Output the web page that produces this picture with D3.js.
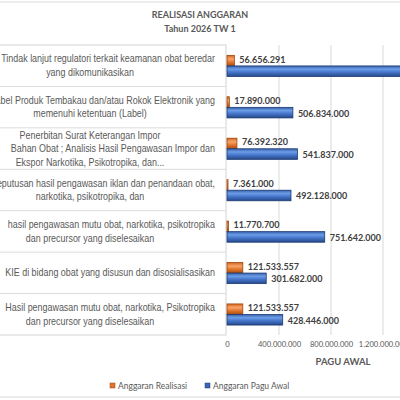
<!DOCTYPE html>
<html>
<head>
<meta charset="utf-8">
<script src="https://cdn.jsdelivr.net/npm/d3@7/dist/d3.min.js"></script>
<style>
  body { margin: 0; background: #fff; overflow: hidden; }
  svg { display: block; }
</style>
</head>
<body>
<div id="chart"></div>
<script>
// data
const categories = [
  ["Tindak lanjut regulatori terkait keamanan obat beredar", "yang dikomunikasikan"],
  ["Label Produk Tembakau dan/atau Rokok Elektronik yang", "memenuhi ketentuan (Label)"],
  ["Penerbitan Surat Keterangan Impor", "Bahan  Obat ; Analisis Hasil Pengawasan Impor dan", "Ekspor Narkotika, Psikotropika, dan..."],
  ["Keputusan hasil pengawasan iklan dan penandaan obat,", "narkotika, psikotropika, dan"],
  ["hasil pengawasan mutu obat, narkotika, psikotropika", "dan precursor  yang diselesaikan"],
  ["KIE di bidang obat yang disusun dan disosialisasikan"],
  ["Hasil pengawasan mutu obat, narkotika, Psikotropika", "dan precursor yang  diselesaikan"]
];
const realisasi = [56656291, 17890000, 76392320, 7361000, 11770700, 121533557, 121533557];
const paguAwal = [1450000000, 506834000, 541837000, 492128000, 751642000, 301682000, 428446000];
const xTicks = [0, 400000000, 800000000, 1200000000, 1600000000];
const seriesNames = ["Anggaran Realisasi", "Anggaran Pagu Awal"];

const width = 400;
const height = 400;
const labelRight = 226;
const gray = "#595959";

const locale = d3.formatLocale({ decimal: ",", thousands: ".", grouping: [3], currency: ["", ""] });
const fmt = locale.format(",d");

const svg = d3.select("#chart").append("svg")
  .attr("width", width)
  .attr("height", height);

const defs = svg.append("defs");
function grad(id, stops) {
  const g = defs.append("linearGradient").attr("id", id)
    .attr("x1", 0).attr("y1", 0).attr("x2", 0).attr("y2", 1);
  stops.forEach(s => g.append("stop").attr("offset", s[0]).attr("stop-color", s[1]));
}
grad("gBlue", [["0%", "#3560ad"], ["30%", "#6d9de6"], ["55%", "#4a7bd0"], ["100%", "#24488c"]]);
grad("gOrange", [["0%", "#d8661c"], ["35%", "#f7a56a"], ["60%", "#e77a30"], ["100%", "#a94c0e"]]);

// outer frame
svg.append("rect")
  .attr("x", -10).attr("y", 2)
  .attr("width", width + 20).attr("height", 395)
  .attr("fill", "#fff").attr("stroke", "#d9d9d9");

// title
svg.append("text")
  .attr("x", 200).attr("y", 18)
  .attr("text-anchor", "middle")
  .attr("font-family", "Lato, 'Open Sans', sans-serif")
  .attr("font-weight", "bold").attr("font-size", 9)
  .attr("fill", gray)
  .text("REALISASI ANGGARAN");
svg.append("text")
  .attr("x", 200).attr("y", 32)
  .attr("text-anchor", "middle")
  .attr("font-family", "Lato, 'Open Sans', sans-serif")
  .attr("font-weight", "bold").attr("font-size", 9)
  .attr("fill", gray)
  .text("Tahun 2026 TW 1");

const x = d3.scaleLinear()
  .domain([0, 1600000000])
  .range([labelRight + 1, labelRight + 1 + 208]);

const y = d3.scaleBand()
  .domain(d3.range(categories.length))
  .range([45, 335]);

const inner = d3.scaleBand()
  .domain([0, 1])
  .range([y.bandwidth() * 0.25, y.bandwidth() * 0.76]);

// gridlines
svg.append("g")
  .selectAll("line")
  .data(xTicks.slice(1))
  .enter()
  .append("line")
  .attr("x1", d => x(d)).attr("x2", d => x(d))
  .attr("y1", 45).attr("y2", 335)
  .attr("stroke", "#d9d9d9");

// category label panel
const panel = svg.append("g");
panel.append("rect")
  .attr("x", -5).attr("y", y.range()[0])
  .attr("width", labelRight + 5).attr("height", y.range()[1] - y.range()[0])
  .attr("fill", "#fff").attr("stroke", "#d4d4d4");
panel.selectAll("line.sep")
  .data(d3.range(1, categories.length))
  .enter()
  .append("line")
  .attr("class", "sep")
  .attr("x1", -5).attr("x2", labelRight)
  .attr("y1", d => y(d)).attr("y2", d => y(d))
  .attr("stroke", "#dcdcdc");

// narrow look for the category labels; long lines run off the left edge
const squeeze = 0.85;
const lineH = 13.5;
const labelCenter = 90;
const labelEnd = 215;
const wrapWidth = 175;
categories.forEach((lines, i) => {
  const cy = y(i) + y.bandwidth() / 2;
  lines.forEach((t, j) => {
    const ty = cy + (j - (lines.length - 1) / 2) * lineH + 3.5;
    const g = panel.append("g")
      .attr("transform", `translate(${labelCenter},${ty}) scale(${squeeze},1)`);
    const txt = g.append("text")
      .attr("x", 0).attr("y", 0)
      .attr("text-anchor", "middle")
      .attr("font-family", "'Liberation Sans', Arial, sans-serif")
      .attr("font-size", 10.5)
      .attr("fill", gray)
      .text(t);
    const w = txt.node().getComputedTextLength() * squeeze;
    if (w > wrapWidth) {
      txt.attr("text-anchor", "end").attr("x", (labelEnd - labelCenter) / squeeze);
    }
  });
});

// bars
const rows = svg.append("g")
  .selectAll("g")
  .data(categories.map((c, i) => i))
  .enter()
  .append("g")
  .attr("transform", i => `translate(0,${y(i)})`);

const series = [
  { values: realisasi, fill: "url(#gOrange)", stroke: "#9a4710" },
  { values: paguAwal, fill: "url(#gBlue)", stroke: "#1d3a70" }
];

series.forEach((s, k) => {
  rows.append("rect")
    .attr("x", x(0))
    .attr("y", inner(k))
    .attr("width", i => Math.max(1, x(s.values[i]) - x(0)))
    .attr("height", inner.bandwidth())
    .attr("fill", s.fill)
    .attr("stroke", s.stroke)
    .attr("stroke-width", 0.8);

  rows.append("text")
    .attr("x", i => x(s.values[i]) + 5)
    .attr("y", inner(k) + inner.bandwidth() / 2 + (k === 0 ? 2 : 4))
    .attr("font-family", "Lato, 'Open Sans', sans-serif")
    .attr("font-weight", "bold").attr("font-size", 9)
    .attr("fill", "#404040")
    .text(i => fmt(s.values[i]));
});

// x axis labels
const xAxis = d3.axisBottom(x)
  .tickValues(xTicks)
  .tickFormat(fmt)
  .tickSize(0)
  .tickPadding(0);
const ax = svg.append("g")
  .attr("transform", "translate(0,342)")
  .call(xAxis);
ax.select(".domain").remove();
ax.selectAll("text")
  .attr("font-family", "Lato, 'Open Sans', sans-serif")
  .attr("font-size", 7.6)
  .attr("fill", gray);

svg.append("text")
  .attr("x", 343).attr("y", 365)
  .attr("text-anchor", "middle")
  .attr("font-family", "Lato, 'Open Sans', sans-serif")
  .attr("font-weight", "bold").attr("font-size", 9.5)
  .attr("fill", gray)
  .text("PAGU AWAL");

// legend
const legendColors = ["#e0732a", "#3b66b8"];
const legend = svg.append("g").attr("transform", "translate(0,386)");
const legendX = [110, 205];
seriesNames.forEach((n, k) => {
  legend.append("rect")
    .attr("x", legendX[k]).attr("y", -3)
    .attr("width", 5).attr("height", 5)
    .attr("fill", legendColors[k])
    .attr("stroke", k === 0 ? "#9a4710" : "#1d3a70").attr("stroke-width", 0.5);
  legend.append("text")
    .attr("x", legendX[k] + 8).attr("y", 2.5)
    .attr("font-family", "Lato, 'Open Sans', sans-serif")
    .attr("font-size", 8.5)
    .attr("fill", gray)
    .text(n);
});
</script>
</body>
</html>
